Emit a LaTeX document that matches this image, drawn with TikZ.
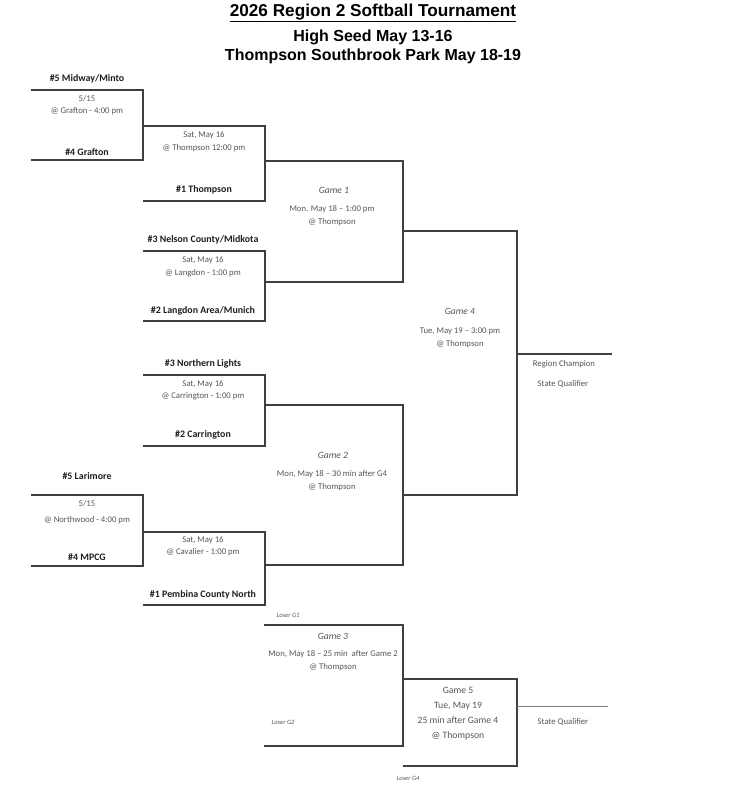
\documentclass[tikz,border=0pt]{standalone}
\usepackage{fontspec}
\setmainfont{Carlito}
\newfontfamily\headfont{Liberation Sans}
\usepackage{xcolor}
\usetikzlibrary{positioning}
\definecolor{ink}{RGB}{64, 64, 64}
\definecolor{dark}{RGB}{30, 30, 30}
\definecolor{soft}{RGB}{85, 85, 85}
\tikzset{
    brk/.style={draw=ink, line width=1.6pt},
    thinbrk/.style={draw=ink!70, line width=1pt},
    team/.style={font=\fontsize{9.9}{11}\selectfont\bfseries, text=dark, inner sep=1pt},
    info/.style={font=\fontsize{8.7}{10}\selectfont, text=soft, inner sep=1pt},
    bigger/.style={font=\fontsize{9.7}{11}\selectfont},
    gamelbl/.style={font=\fontsize{9.6}{11}\selectfont\itshape, text=soft, inner sep=1pt},
    loser/.style={font=\fontsize{6.5}{7}\selectfont\itshape, text=soft, inner sep=1pt},
    head/.style={font=\headfont\bfseries\fontsize{16}{19}\selectfont, text=black, inner sep=1pt}
}
\begin{document}
\begin{tikzpicture}[x=1pt, y=-1pt]
    \useasboundingbox (0,0) rectangle (750,792);

    \node[head, font=\headfont\bfseries\fontsize{17.2}{20}\selectfont] (title) at (373,13) {\underline{2026 Region 2 Softball Tournament}};
    \node[head] (sub1) at (373,37) {High Seed May 13-16};
    \node[head] (sub2) at (373,56) {Thompson Southbrook Park May 18-19};

    % first round
    \coordinate (q1t) at (31,90);
    \coordinate (q1b) at (31,160);
    \coordinate (q2t) at (31,495);
    \coordinate (q2b) at (31,566);
    \draw[brk] (q1t) -- ++(112,0) |- (q1b);
    \draw[brk] (q2t) -- ++(112,0) |- (q2b);

    \node[team] (midway) at (87,79) {\#5 Midway/Minto};
    \node[info] (q1day) at (87,99) {5/15};
    \node[info] (q1at) at (87,111) {@ Grafton - 4:00 pm};
    \node[team] (grafton) at (87,152) {\#4 Grafton};

    \node[team] (larimore) at (87,476) {\#5 Larimore};
    \node[info] (q2day) at (87,504) {5/15};
    \node[info] (q2at) at (87,520) {@ Northwood - 4:00 pm};
    \node[team] (mpcg) at (87,557) {\#4 MPCG};

    % second round
    \coordinate (s1t) at (143,126);
    \coordinate (s1b) at (143,201);
    \coordinate (s2t) at (143,251);
    \coordinate (s2b) at (143,321);
    \coordinate (s3t) at (143,375);
    \coordinate (s3b) at (143,446);
    \coordinate (s4t) at (143,532);
    \coordinate (s4b) at (143,605);
    \draw[brk] (s1t) -- ++(122,0) |- (s1b);
    \draw[brk] (s2t) -- ++(122,0) |- (s2b);
    \draw[brk] (s3t) -- ++(122,0) |- (s3b);
    \draw[brk] (s4t) -- ++(122,0) |- (s4b);

    \node[info] (s1day) at (204,135) {Sat, May 16};
    \node[info] (s1at) at (204,148) {@ Thompson 12:00 pm};
    \node[team] (thompson) at (204,190) {\#1 Thompson};

    \node[team] (nelson) at (203,240) {\#3 Nelson County/Midkota};
    \node[info] (s2day) at (203,260) {Sat, May 16};
    \node[info] (s2at) at (203,273) {@ Langdon - 1:00 pm};
    \node[team] (langdon) at (203,311) {\#2 Langdon Area/Munich};

    \node[team] (northern) at (203,364) {\#3 Northern Lights};
    \node[info] (s3day) at (203,384) {Sat, May 16};
    \node[info] (s3at) at (203,396) {@ Carrington - 1:00 pm};
    \node[team] (carrington) at (203,435) {\#2 Carrington};

    \node[info] (s4day) at (203,540) {Sat, May 16};
    \node[info] (s4at) at (203,552) {@ Cavalier - 1:00 pm};
    \node[team] (pembina) at (203,595) {\#1 Pembina County North};

    % semifinals
    \coordinate (g1t) at (265,161);
    \coordinate (g1b) at (265,282);
    \coordinate (g2t) at (265,405);
    \coordinate (g2b) at (265,565);
    \draw[brk] (g1t) -- ++(138,0) |- (g1b);
    \draw[brk] (g2t) -- ++(138,0) |- (g2b);

    \node[gamelbl] (game1) at (334,190) {Game 1};
    \node[info] (g1day) at (332,209) {Mon. May 18 -- 1:00 pm};
    \node[info] (g1at) at (332,222) {@ Thompson};

    \node[gamelbl] (game2) at (333,455) {Game 2};
    \node[info] (g2day) at (332,474) {Mon, May 18 -- 30 min after G4};
    \node[info] (g2at) at (332,487) {@ Thompson};

    % final
    \coordinate (g4t) at (403,231);
    \coordinate (g4b) at (403,495);
    \draw[brk] (g4t) -- ++(114,0) |- (g4b);
    \coordinate (champ) at (517,354);
    \draw[brk] (champ) -- ++(95,0);

    \node[gamelbl] (game4) at (460,311) {Game 4};
    \node[info] (g4day) at (460,331) {Tue, May 19 -- 3:00 pm};
    \node[info] (g4at) at (460,344) {@ Thompson};
    \node[info] (region) at (564,364) {Region Champion};
    \node[info] (qual1) at (563,384) {State Qualifier};

    % consolation
    \coordinate (g3t) at (264,625);
    \coordinate (g3b) at (264,746);
    \coordinate (g5t) at (403,679);
    \coordinate (g5b) at (403,766);
    \draw[brk] (g3t) -- ++(139,0) |- (g3b);
    \draw[brk] (g5t) -- ++(114,0) |- (g5b);
    \coordinate (qual) at (517,706);
    \draw[thinbrk] (qual) -- ++(91,0);

    \node[loser] (lg1) at (288,615) {Loser G1};
    \node[gamelbl] (game3) at (333,636) {Game 3};
    \node[info] (g3day) at (333,654) {Mon, May 18 -- 25 min\ \ after Game 2};
    \node[info] (g3at) at (333,667) {@ Thompson};
    \node[loser] (lg2) at (283,722) {Loser G2};

    \node[info, bigger] (game5) at (458,690) {Game 5};
    \node[info, bigger] (g5day) at (458,706) {Tue, May 19};
    \node[info, bigger] (g5time) at (458,720) {25 min after Game 4};
    \node[info, bigger] (g5at) at (458,736) {@ Thompson};
    \node[loser] (lg4) at (408,778) {Loser G4};
    \node[info] (qual2) at (563,722) {State Qualifier};
\end{tikzpicture}
\end{document}
